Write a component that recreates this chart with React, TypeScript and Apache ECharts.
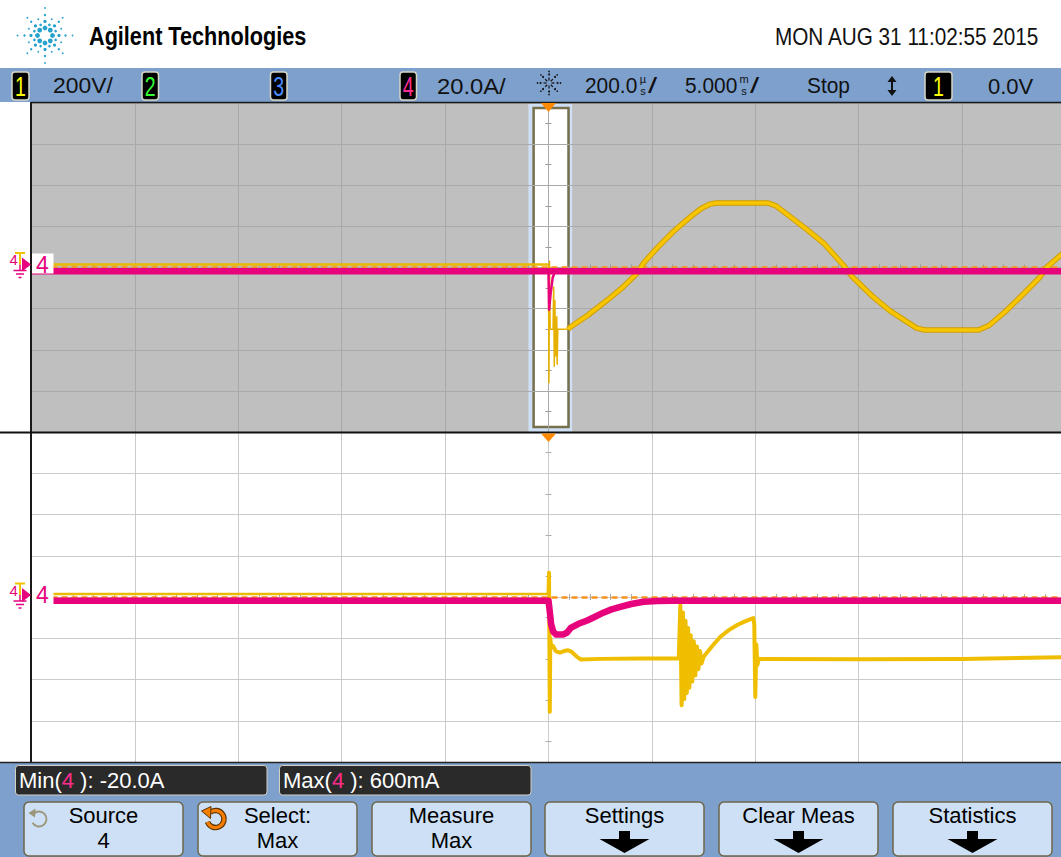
import React, { useEffect, useRef } from 'react';
import * as echarts from 'echarts';

type P = [number, number];

// ---------------- texts ----------------
const BRAND = 'Agilent Technologies';
const DATE_TEXT = 'MON AUG 31 11:02:55 2015';
const CH1_SCALE = '200V/';
const CH4_SCALE = '20.0A/';
const ZOOM_BASE = '200.0';
const MAIN_BASE = '5.000';
const RUN_STATE = 'Stop';
const TRIG_LEVEL = '0.0V';
const MEASUREMENTS = [
  { name: 'Min', ch: '4', value: '-20.0A' },
  { name: 'Max', ch: '4', value: '600mA' },
];
const SOFTKEYS = [
  { top: 'Source', bottom: '4', arrow: false },
  { top: 'Select:', bottom: 'Max', arrow: false },
  { top: 'Measure', bottom: 'Max', arrow: false },
  { top: 'Settings', bottom: '', arrow: true },
  { top: 'Clear Meas', bottom: '', arrow: true },
  { top: 'Statistics', bottom: '', arrow: true },
];

// ---------------- axes ----------------
const MAIN_TIME = { min: -25, max: 25, interval: 5 }; // ms, 5 ms/div
const ZOOM_TIME = { min: -1000, max: 1000, interval: 200 }; // µs, 200 µs/div
const VOLT = { min: -800, max: 800, interval: 200 }; // ch1 200 V/div
const AMP = { min: -80, max: 80, interval: 20 }; // ch4 20 A/div

// ---------------- data: main window (t in ms) ----------------
const mainCh1Pre: P[] = [[-25, 14], [0, 14]];
const mainCh1Transient: P[] = [
  [0, 14], [0.02, -560], [0.05, 30], [0.08, -300], [0.22, -300], [0.25, -95], [0.28, -480],
  [0.31, -160], [0.34, -430], [0.37, -300], [0.4, -240], [0.42, -470], [0.45, -300], [0.95, -300],
];
const mainCh1Wave: P[] = [
  [0.95, -300], [1.06, -289], [1.9, -232], [2.85, -158], [3.6, -95], [4.3, -27], [4.6, 22],
  [5.3, 100], [6.04, 175], [6.9, 250], [7.4, 288], [7.8, 308], [8.1, 314], [10.6, 314],
  [11.0, 300], [11.7, 246], [12.5, 184], [13.3, 119], [14.25, 12], [14.7, -46], [15.7, -143],
  [16.5, -210], [17.3, -262], [17.8, -295], [18.2, -304], [20.8, -304], [21.3, -282],
  [22.17, -207], [23.0, -125], [23.77, -46], [24.1, 2], [24.78, 61], [25.2, 90],
];
const mainCh4: P[] = [[-25, -1.8], [25.2, -1.8]];
const mainCh4Dip: P[] = [
  [0, -1.8], [0.03, -20.5], [0.1, -13], [0.2, -5], [0.3, -2.5], [0.45, -1.8],
];

// ---------------- data: zoom window (t in µs) ----------------
const zoomCh1Pre: P[] = [[-1000, 14], [0, 14]];
const zoomCh1Post: P[] = [
  [0, 14], [1, 118], [2.5, -556], [3.5, -200], [5, -240], [9, -238], [14, -262], [22, -270],
  [30, -262], [38, -258], [45, -266], [55, -290], [63, -303], [100, -300], [180, -298],
  [252, -298], [255, -40], [257.5, -525], [260, -75], [262.5, -495], [265, -115], [267.5, -465],
  [270, -150], [272.5, -440], [275, -185], [278, -410], [281, -215], [284, -380], [287, -240],
  [290, -350], [293, -262], [296, -322], [300, -290], [316, -240], [332, -194], [348, -162],
  [365, -136], [380, -118], [396, -102], [398, -130], [400, -485], [402, -230], [404, -330],
  [407, -300], [600, -302], [800, -300], [1000, -292], [1040, -290],
];
const zoomCh4: P[] = [
  [-1000, -1.8], [0, -1.8], [2, -6], [5, -13], [9, -16.8], [15, -18.2], [28, -18.2], [36, -17.2],
  [43, -15], [58, -13], [75, -11.4], [90, -9.6], [106, -7.6], [122, -6], [139, -4.8],
  [160, -3.4], [184, -2.3], [210, -1.9], [240, -1.8], [1040, -1.8],
];

// ---------------- styling ----------------
const FONT = "'Liberation Sans', Arial, Helvetica, sans-serif";
const BLUE = '#7da0cd';
const PINK = '#e6037c';
const YEL = '#f2c100';
const ORANGE = '#f7921e';

function T(x: number, y: number, text: string, size: number, fill: string, o: any = {}) {
  const style: any = {
    text, fill, fontSize: size, fontFamily: FONT,
    fontWeight: o.bold ? 'bold' : 'normal',
    align: o.align || 'left', verticalAlign: 'middle',
  };
  if (o.rich) style.rich = o.rich;
  return { type: 'text', x, y, z: 20, scaleX: o.sx || 1, silent: true, style };
}
function R(x: number, y: number, w: number, h: number, fill: string, stroke?: string, lw = 1, r = 0, z = 20) {
  return {
    type: 'rect', z, silent: true,
    shape: { x, y, width: w, height: h, r },
    style: { fill, stroke: stroke || 'none', lineWidth: stroke ? lw : 0 },
  };
}
function L(x1: number, y1: number, x2: number, y2: number, stroke: string, lw = 1, z = 20) {
  return { type: 'line', z, silent: true, shape: { x1, y1, x2, y2 }, style: { stroke, lineWidth: lw } };
}
function PG(points: number[][], fill: string, stroke?: string, lw = 1, z = 20) {
  return { type: 'polygon', z, silent: true, shape: { points }, style: { fill, stroke: stroke || 'none', lineWidth: stroke ? lw : 0 } };
}
function C(cx: number, cy: number, r: number, fill: string, z = 20) {
  return { type: 'circle', z, silent: true, shape: { cx, cy, r }, style: { fill } };
}

function buildGraphics() {
  const g: any[] = [];
  // bars
  g.push(R(0, 68, 1061, 34, BLUE, undefined, 0, 0, 1));
  g.push(R(0, 763, 1061, 94, BLUE, undefined, 0, 0, 1));

  // logo spark
  const lcx = 45, lcy = 35.5;
  for (let k = 0; k < 8; k++) {
    const a = (k * Math.PI) / 4;
    const radii = k % 2 === 0 ? [7.5, 14, 20.5, 27.5] : [7.5, 13.5, 19.5, 25];
    const sizes = [2.4, 1.6, 1.2, 0.9];
    radii.forEach((r, i) => g.push(C(lcx + r * Math.cos(a), lcy + r * Math.sin(a), sizes[i], '#26a2cc')));
  }
  for (let k = 0; k < 8; k++) {
    const a = ((k + 0.5) * Math.PI) / 4;
    [[11.5, 1.3], [17.5, 0.9]].forEach(([r, s]) => g.push(C(lcx + r * Math.cos(a), lcy + r * Math.sin(a), s, '#26a2cc')));
  }
  g.push(T(89, 36, BRAND, 25, '#000', { bold: true, sx: 0.866 }));
  g.push(T(775, 37, DATE_TEXT, 24, '#111', { sx: 0.864 }));

  // channel boxes
  const box = (x: number, w: number, d: string, c: string) => {
    g.push(R(x, 72, w, 28, '#000', '#d6d6c6', 1.5, 3));
    g.push(T(x + w / 2, 86.5, d, 28, c, { align: 'center', sx: 0.7 }));
  };
  box(12, 17, '1', '#ffff00');
  box(142, 16.5, '2', '#33ff33');
  box(270.5, 16.5, '3', '#4d8cff');
  box(400, 16.5, '4', '#ff2a95');
  box(925, 27, '1', '#ffff00');

  g.push(T(53, 86, CH1_SCALE, 22, '#111', { sx: 1.04 }));
  g.push(T(437, 86, CH4_SCALE, 22, '#111', { sx: 1.08 }));
  // status spark icon
  for (let k = 0; k < 8; k++) {
    const a = (k * Math.PI) / 4;
    const ca = Math.cos(a), sa = Math.sin(a);
    g.push(L(549 + 2.5 * ca, 83 + 2.5 * sa, 549 + 5.5 * ca, 83 + 5.5 * sa, '#111', 1.2));
    g.push(C(549 + 8.5 * ca, 83 + 8.5 * sa, 1, '#111'));
    g.push(C(549 + 11.5 * ca, 83 + 11.5 * sa, 0.8, '#111'));
  }
  g.push(T(585, 86, ZOOM_BASE, 22, '#111', { sx: 0.95 }));
  g.push(T(643, 79, 'µ', 11, '#111', { align: 'center' }));
  g.push(T(643, 91, 's', 11, '#111', { align: 'center' }));
  g.push(T(648, 86, '/', 22, '#111', { sx: 1.5 }));
  g.push(T(685, 86, MAIN_BASE, 22, '#111', { sx: 0.95 }));
  g.push(T(744, 79, 'm', 11, '#111', { align: 'center' }));
  g.push(T(744, 91, 's', 11, '#111', { align: 'center' }));
  g.push(T(750, 86, '/', 22, '#111', { sx: 1.5 }));
  g.push(T(807, 86, RUN_STATE, 22, '#111', { sx: 0.95 }));
  g.push(L(892, 79, 892, 93, '#111', 2));
  g.push(PG([[887.5, 82], [896.5, 82], [892, 76]], '#111'));
  g.push(PG([[887.5, 90], [896.5, 90], [892, 96]], '#111'));
  g.push(T(988, 86, TRIG_LEVEL, 22, '#111'));

  // plot frame
  g.push(L(31, 102, 31, 763, '#1a1a1a', 2));
  g.push(L(31, 102.5, 1061, 102.5, '#1a1a1a', 1.5));
  g.push(L(0, 432.5, 1061, 432.5, '#111', 2));
  g.push(L(0, 762.5, 1061, 762.5, '#222', 1.5));

  // ground markers
  [264.5, 595].forEach((y0) => {
    g.push(T(9.5, y0 - 5, '4', 15, PINK));
    g.push(L(15, y0 - 11.5, 25, y0 - 11.5, YEL, 2));
    g.push(L(20, y0 - 11.5, 20, y0, YEL, 2));
    g.push(PG([[22, y0 - 7], [31, y0], [22, y0 + 7]], PINK));
    g.push(L(20, y0, 20, y0 + 6, PINK, 1.5));
    g.push(L(13.5, y0 + 6, 26.5, y0 + 6, PINK, 1.5));
    g.push(L(16, y0 + 9.5, 24, y0 + 9.5, PINK, 1.5));
    g.push(L(18.5, y0 + 13, 21.5, y0 + 13, PINK, 1.5));
    g.push(R(32, y0 - 11, 21.5, 20, '#ffffff'));
    g.push(T(42.5, y0, '4', 23, PINK, { align: 'center' }));
  });

  // trigger position markers
  g.push(PG([[541, 103], [556, 103], [548.5, 112]], '#ff8a00'));
  g.push(PG([[541, 433.5], [556, 433.5], [548.5, 442]], '#ff8a00'));

  // measurements
  const mx = [15.5, 279.5];
  MEASUREMENTS.forEach((m, i) => {
    g.push(R(mx[i], 765.5, 251.5, 29.5, '#2a2a2a', '#d2d2c2', 1, 3));
    const st = (fill: string) => ({ fill, fontSize: 22, fontFamily: FONT });
    g.push(T(mx[i] + 3.5, 780.5, `{w|${m.name}(}{p|${m.ch}}{w| ): ${m.value}}`, 22, '#fff', {
      rich: { w: st('#ffffff'), p: st('#ff2a8a') },
    }));
  });

  // softkeys
  const kx = [24, 198, 372, 545, 719, 893];
  SOFTKEYS.forEach((k, i) => {
    const x = kx[i], w = 159, cx = x + w / 2;
    g.push(R(x, 802, w, 54, '#cde0f6', '#6f6649', 1.5, 5));
    g.push(T(cx, 815.5, k.top, 22, '#000', { align: 'center' }));
    if (k.bottom) g.push(T(cx, 840, k.bottom, 22, '#000', { align: 'center' }));
    if (k.arrow) {
      g.push(PG([[cx - 5.5, 831], [cx + 5.5, 831], [cx + 5.5, 839], [cx + 25, 839], [cx, 853], [cx - 25, 839], [cx - 5.5, 839]], '#000'));
    }
  });
  // softkey icons
  g.push({
    type: 'arc', z: 21, silent: true,
    shape: { cx: 39, cy: 819, r: 7.5, startAngle: (-140 * Math.PI) / 180, endAngle: (150 * Math.PI) / 180, clockwise: true },
    style: { stroke: '#9c9678', lineWidth: 1.8, fill: 'none' },
  });
  g.push(PG([[28.5, 813], [35.5, 808.5], [35, 817.5]], '#9c9678', undefined, 1, 21));
  g.push({
    type: 'arc', z: 21, silent: true,
    shape: { cx: 215.5, cy: 819, r: 8.5, startAngle: (-130 * Math.PI) / 180, endAngle: (160 * Math.PI) / 180, clockwise: true },
    style: { stroke: '#5a3200', lineWidth: 5.5, fill: 'none' },
  });
  g.push({
    type: 'arc', z: 22, silent: true,
    shape: { cx: 215.5, cy: 819, r: 8.5, startAngle: (-130 * Math.PI) / 180, endAngle: (160 * Math.PI) / 180, clockwise: true },
    style: { stroke: '#f47d00', lineWidth: 3.2, fill: 'none' },
  });
  g.push(PG([[201.5, 811], [211, 806.5], [210.5, 818.5]], '#f47d00', '#5a3200', 1, 23));
  return g;
}

function mainAxis(grid: number, r: any, color: string) {
  return {
    type: 'value', gridIndex: grid, min: r.min, max: r.max, interval: r.interval, z: 3,
    axisLabel: { show: false }, axisLine: { show: false }, axisTick: { show: false },
    splitLine: { show: true, lineStyle: { color, width: 1 } },
  };
}
function tickAxis(grid: number, r: any, onZeroIdx: number, position: string, color: string, split: number) {
  return {
    type: 'value', gridIndex: grid, min: r.min, max: r.max, interval: r.interval, position, z: 3,
    axisLabel: { show: false },
    axisLine: { show: false, onZero: true, onZeroAxisIndex: onZeroIdx },
    axisTick: { show: false }, splitLine: { show: false },
    minorTick: { show: true, splitNumber: split, length: 3, lineStyle: { color, width: 1 } },
  };
}
function hiddenAxis(grid: number, r: any) {
  return { type: 'value', gridIndex: grid, min: r.min, max: r.max, interval: r.interval, show: false };
}
function trace(xi: number, yi: number, data: P[], color: string, width: number, z: number) {
  return {
    type: 'line', xAxisIndex: xi, yAxisIndex: yi, data, symbol: 'none', showSymbol: false, silent: true,
    clip: true, z, lineStyle: { color, width, join: 'round', cap: 'butt' }, itemStyle: { color },
  };
}

function buildOption() {
  const upGrid = '#a9a9a9';
  const loGrid = '#cbcbcb';
  const trig = {
    z: 4, silent: true, symbol: ['none', 'none'], label: { show: false },
    lineStyle: { color: ORANGE, type: [6, 4], width: 2.5 },
    data: [{ yAxis: 0 }],
  };
  return {
    animation: false,
    backgroundColor: '#ffffff',
    textStyle: { fontFamily: FONT },
    grid: [
      { left: 31.5, top: 103, width: 1034, height: 329, show: false, containLabel: false, outerBoundsMode: 'none' },
      { left: 31.5, top: 432, width: 1034, height: 330, show: false, containLabel: false, outerBoundsMode: 'none' },
    ],
    xAxis: [
      mainAxis(0, MAIN_TIME, upGrid),
      tickAxis(0, MAIN_TIME, 0, 'bottom', '#999', 5),
      tickAxis(0, MAIN_TIME, 0, 'top', '#999', 5),
      mainAxis(1, ZOOM_TIME, loGrid),
      tickAxis(1, ZOOM_TIME, 4, 'bottom', '#aaa', 5),
      tickAxis(1, ZOOM_TIME, 4, 'top', '#aaa', 5),
    ],
    yAxis: [
      mainAxis(0, VOLT, upGrid),
      hiddenAxis(0, AMP),
      tickAxis(0, VOLT, 0, 'left', '#999', 2),
      tickAxis(0, VOLT, 0, 'right', '#999', 2),
      mainAxis(1, VOLT, loGrid),
      hiddenAxis(1, AMP),
      tickAxis(1, VOLT, 3, 'left', '#aaa', 2),
      tickAxis(1, VOLT, 3, 'right', '#aaa', 2),
    ],
    series: [
      {
        type: 'line', xAxisIndex: 0, yAxisIndex: 0, data: [], silent: true,
        markArea: {
          z: 1, silent: true, label: { show: false },
          data: [
            [{ xAxis: MAIN_TIME.min, itemStyle: { color: '#bfbfbf' } }, { xAxis: MAIN_TIME.max }],
            [{ xAxis: -0.85, yAxis: 790, itemStyle: { color: '#ffffff', borderColor: '#cfe0f6', borderWidth: 5 } }, { xAxis: 1.02, yAxis: -790 }],
            [{ xAxis: -0.72, yAxis: 776, itemStyle: { color: 'rgba(0,0,0,0)', borderColor: '#77704c', borderWidth: 2.5 } }, { xAxis: 0.97, yAxis: -776 }],
          ],
        },
        markLine: trig,
      },
      trace(0, 0, mainCh1Pre, '#ebb900', 2.5, 5),
      trace(0, 0, mainCh1Transient, '#e6b000', 1.5, 5),
      trace(0, 0, mainCh1Wave, '#cf9e00', 5.5, 5),
      trace(0, 0, mainCh1Wave, '#f8c600', 3.5, 6),
      trace(0, 1, mainCh4, PINK, 6.5, 7),
      trace(0, 1, mainCh4Dip, PINK, 2.5, 7),
      { type: 'line', xAxisIndex: 3, yAxisIndex: 4, data: [], silent: true, markLine: trig },
      trace(3, 4, zoomCh1Pre, '#ebb900', 2.5, 5),
      trace(3, 4, zoomCh1Post, '#efbe00', 4, 6),
      trace(3, 5, zoomCh4, PINK, 6.5, 7),
    ],
    graphic: { elements: buildGraphics() },
  };
}

export default function App() {
  const ref = useRef<HTMLDivElement>(null);
  useEffect(() => {
    if (!ref.current) return;
    const chart = echarts.init(ref.current, undefined, { renderer: 'svg', width: 1061, height: 857 });
    chart.setOption(buildOption() as any);
    return () => chart.dispose();
  }, []);
  return (
    <div
      ref={ref}
      style={{ position: 'absolute', left: 0, top: 0, width: 1061, height: 857, background: '#fff' }}
    />
  );
}
